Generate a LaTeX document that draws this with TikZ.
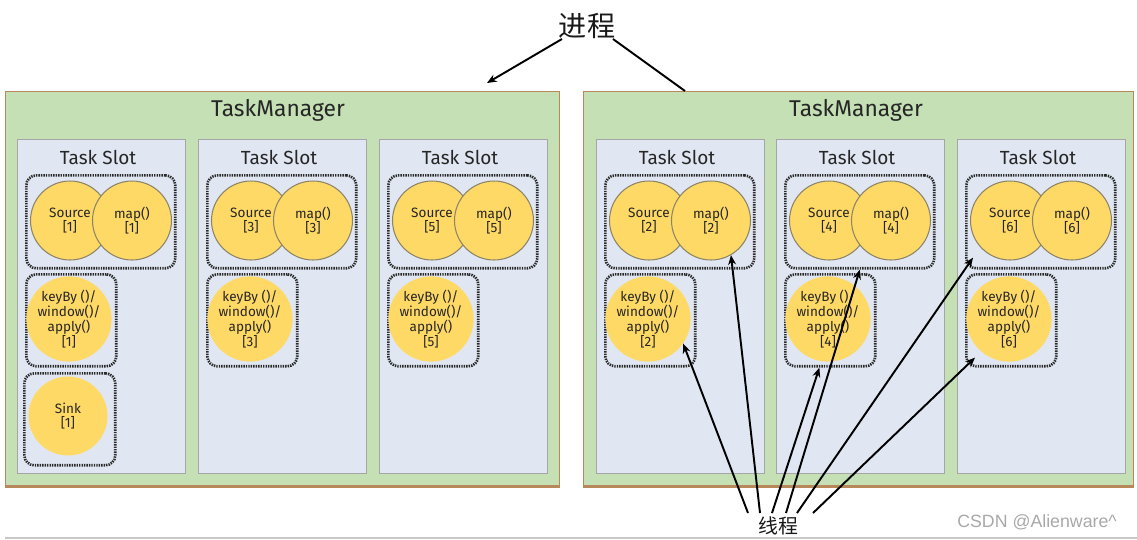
\documentclass[tikz,border=0pt]{standalone}
\usepackage{fontspec}
\setmainfont{Fira Sans}
\newfontfamily\cjk{Noto Sans CJK SC}
\newfontfamily\wmfont{Liberation Sans}
\usetikzlibrary{arrows.meta,calc}
\definecolor{tmgreen}{HTML}{C5E0B4}
\definecolor{tmborder}{HTML}{B8875A}
\definecolor{slotfill}{HTML}{E0E7F2}
\definecolor{slotborder}{HTML}{A6A6A6}
\definecolor{opyellow}{HTML}{FFD966}
\definecolor{opborder}{HTML}{8C8468}
\definecolor{dotgray}{HTML}{2A2A2A}
\definecolor{wmgray}{HTML}{A8A8A8}
\tikzset{
  tmbox/.style={draw=tmborder, line width=0.8pt, fill=tmgreen, rectangle, anchor=north west, minimum width=11.08cm, minimum height=7.88cm, inner sep=0pt},
  slotbox/.style={draw=slotborder, line width=0.8pt, fill=slotfill, rectangle, anchor=north west, minimum width=3.36cm, minimum height=6.68cm, inner sep=0pt},
  grpbox/.style={draw=dotgray, line width=1.5pt, dash pattern=on 0.8pt off 0.6pt, rounded corners=0.2cm, rectangle, anchor=north west, inner sep=0pt},
  opcirc/.style={circle, fill=opyellow, draw=opborder, line width=0.6pt, minimum size=1.58cm, inner sep=0pt, align=center, font=\fontsize{7.7}{8.3}\selectfont, text=black!85},
  opsolo/.style={circle, fill=opyellow, minimum size=1.58cm, inner sep=0pt, align=center, font=\fontsize{7.7}{8.5}\selectfont, text=black!85},
  tmlbl/.style={font=\fontsize{13}{13}\selectfont, text=black!85},
  slotlbl/.style={font=\fontsize{10.8}{11}\selectfont, text=black!85},
  arr/.style={draw=black, line width=1.1pt, -{Stealth[length=5.5pt,width=4.5pt]}},
  plainline/.style={draw=black, line width=1.1pt},
}
\begin{document}
\begin{tikzpicture}[x=0.02cm,y=-0.02cm]
\useasboundingbox (0,0) rectangle (1137,539);
% bottom grey rule
\draw[line width=0.8pt, draw=black!22] (5,538) -- (1137,538);

% TaskManagers
\node[tmbox] (tmL) at (5,91) {};
\node[tmbox, minimum width=11.0cm] (tmR) at (583,91) {};
\draw[tmborder, line width=1.4pt] (tmL.south west) -- (tmL.south east);
\draw[tmborder, line width=1.4pt] (tmR.south west) -- (tmR.south east);
\node[tmlbl] (tmLlbl) at (278,110) {TaskManager};
\node[tmlbl] (tmRlbl) at (856,110) {TaskManager};

% Task slots
\foreach \id/\sx in {1/17,3/198,5/379,2/596,4/776,6/957} {
  \node[slotbox] (slot\id) at (\sx,139) {};
  \node[slotlbl] (sl\id) at (\sx+81,157) {Task Slot};
  \node[grpbox, minimum width=2.98cm, minimum height=1.86cm] (sm\id) at (\sx+8,174) {};
  \node[opcirc] (src\id) at (\sx+53,220.5) {Source\\{[}\id{]}};
  \node[opcirc] (map\id) at (\sx+115,220.5) {map()\\{[}\id{]}};
  \node[grpbox, minimum width=1.8cm, minimum height=1.84cm] (kbb\id) at (\sx+8,273) {};
  \node[opsolo] (kb\id) at (\sx+52,319) {keyBy ()/\\window()/\\apply()\\{[}\id{]}};
}
% Sink
\node[grpbox, minimum width=1.82cm, minimum height=1.84cm] (sinkb) at (23,372) {};
\node[opsolo] (sink) at (68,416) {Sink\\{[}1{]}};

% process label and arrows
\node[font=\cjk\fontsize{16}{16}\selectfont, text=black!90] (pj) at (587,26) {进程};
\coordinate (pjL) at (562,39);
\coordinate (pjR) at (613,39);
\coordinate (pjLend) at (487,83);
\coordinate (pjRend) at (685,91);
\draw[arr] (pjL) -- (pjLend);
\draw[plainline] (pjR) -- (pjRend);

% thread label and arrows
\node[font=\cjk\fontsize{11.3}{12}\selectfont, text=black!90] (xc) at (778,526) {线程};
\coordinate (t1) at (748,513);
\coordinate (t2) at (760,513);
\coordinate (t3) at (772,513);
\coordinate (t4) at (786,513);
\coordinate (t5) at (797,513);
\coordinate (t6) at (813,513);
\draw[arr] (t1) -- (kb2.-35);
\draw[arr] (t2) -- (map2.-60);
\draw[arr] (t3) -- (kbb4.-103);
\draw[arr] (t4) -- (sm4.south);
\draw[arr] (t5) -- ($(sm6.south west)+(8,-12)$);
\draw[arr] (t6) -- ($(kbb6.south west)+(10,-10)$);

% watermark
\node[font=\wmfont\fontsize{10.1}{10.5}\selectfont, text=wmgray, anchor=east] (wm) at (1123,522) {CSDN @Alienware\^{}};
\end{tikzpicture}
\end{document}
